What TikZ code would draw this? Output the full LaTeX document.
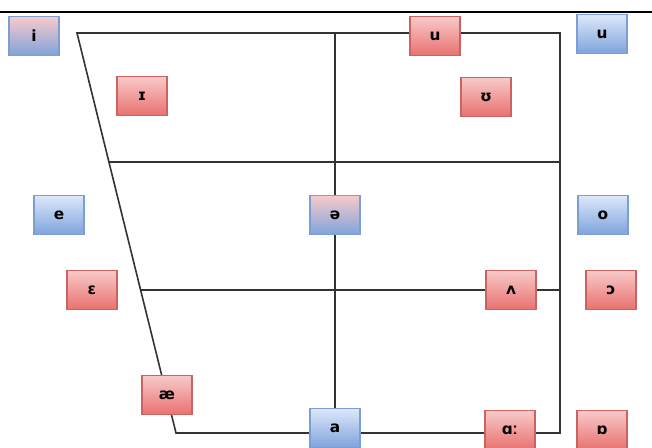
\documentclass[tikz,border=0pt]{standalone}
\usepackage{fontspec}
\setmainfont{DejaVu Sans}
\usepackage{tikz}
\pgfdeclarelayer{bg}
\pgfsetlayers{bg,main}
\definecolor{redtop}{HTML}{F8CACA}
\definecolor{redbot}{HTML}{E8716F}
\definecolor{redline}{HTML}{C96462}
\definecolor{bluetop}{HTML}{DDE8FA}
\definecolor{bluebot}{HTML}{7FA3DC}
\definecolor{blueline}{HTML}{7C9ED2}
\definecolor{gridline}{HTML}{333333}
\tikzset{
    every picture/.append style={x=0.75pt, y=-0.75pt},
    vowel/.style={rectangle, draw, line width=0.8pt, minimum width=37.5pt,
        minimum height=29.5pt, inner sep=0pt,
        font=\fontsize{11.5}{12}\selectfont\bfseries},
    front/.style={vowel, draw=redline, top color=redtop, bottom color=redbot},
    back/.style={vowel, draw=blueline, top color=bluetop, bottom color=bluebot},
    mixed/.style={vowel, draw=blueline, top color=redtop, bottom color=bluebot},
    grid/.style={draw=gridline, line width=1.2pt}
}

\begin{document}
\begin{tikzpicture}
  \useasboundingbox (0,0) rectangle (652,448);
  \draw[line width=1.6pt] (0,12) -- (652,12);

  % corners of the chart
  \coordinate (tl) at (77,33);
  \coordinate (tm) at (335,33);
  \coordinate (tr) at (560,33);
  \coordinate (l1) at (108.9,162);
  \coordinate (r1) at (560,162);
  \coordinate (l2) at (140.6,290);
  \coordinate (r2) at (560,290);
  \coordinate (bl) at (176,433);
  \coordinate (bm) at (335,433);
  \coordinate (br) at (560,433);

  \begin{scope}
  \clip (0,0) rectangle (652,448);
  % vowels
  \node (v_i) [mixed] at (34,36) {i};
  \node (v_I) [front] at (142,96) {ɪ};
  \node (v_u) [front] at (435,36) {u};
  \node (v_U) [front] at (486,97) {ʊ};
  \node (v_u2) [back] at (602,34) {u};
  \node (v_e) [back] at (59,215) {e};
  \node (v_schwa) [mixed] at (335,215) {ə};
  \node (v_o) [back] at (603,215) {o};
  \node (v_E) [front] at (92,290) {ɛ};
  \node (v_V) [front] at (511,290) {ʌ};
  \node (v_O) [front] at (611,290) {ɔ};
  \node (v_ae) [front] at (167,395) {æ};
  \node (v_a) [back] at (335,428) {a};
  \node (v_A) [front] at (510,430) {ɑː};
  \node (v_Q) [front] at (602,430) {ɒ};
  \end{scope}

  \begin{pgfonlayer}{bg}
    \draw[grid] (bl) -- (tl) -- (tr) -- (br) -- cycle;
    \draw[grid] (l1) -- (r1);
    \draw[grid] (l2) -- (r2);
    \draw[grid] (tm) -- (bm);
  \end{pgfonlayer}
\end{tikzpicture}
\end{document}
